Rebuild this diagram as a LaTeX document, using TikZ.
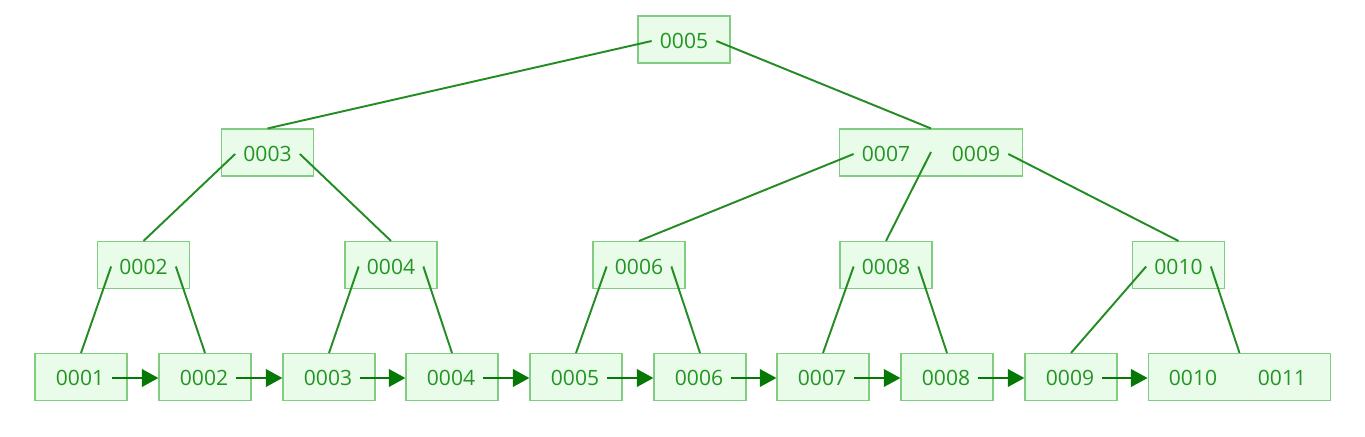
\documentclass[tikz,border=0pt]{standalone}
\usepackage{fontspec}
\setmainfont{Open Sans}
\usetikzlibrary{arrows.meta}
\definecolor{boxfill}{HTML}{E9FBE9}
\definecolor{boxline}{HTML}{80CC80}
\definecolor{txt}{HTML}{249424}
\definecolor{edgec}{HTML}{238C23}
\definecolor{arr}{HTML}{057805}
\begin{document}
\begin{tikzpicture}[x=0.75pt,y=-0.75pt,
 box/.style={draw=boxline,fill=boxfill,line width=0.8pt,minimum width=69pt,minimum height=35.25pt,inner sep=0pt},
 wbox/.style={box,minimum width=137pt},
 key/.style={text=txt,font=\fontsize{15.8pt}{17pt}\selectfont,inner xsep=6pt,inner ysep=2pt},
 tree/.style={draw=edgec,line width=1.45pt},
 link/.style={draw=arr,line width=2.2pt,-{Triangle[length=12.5pt,width=13pt]}}]
\useasboundingbox (0,0) rectangle (1365,436);
% root
\node[box] (b5) at (684,39.5) {};
\node[key] (t5) at (684,41) {0005};
% level 1
\node[box] (b3) at (267.5,152.5) {};
\node[key] (t3) at (267.5,154) {0003};
\node[wbox] (b79) at (931,152.5) {};
\node[key] (t7) at (886,154) {0007};
\node[key] (t9) at (976,154) {0009};
\coordinate (s79) at (931,152);
% level 2
\node[box] (m2) at (143.5,265) {};
\node[key] (mt2) at (143.5,266.5) {0002};
\node[box] (m4) at (391,265) {};
\node[key] (mt4) at (391,266.5) {0004};
\node[box] (m6) at (639,265) {};
\node[key] (mt6) at (639,266.5) {0006};
\node[box] (m8) at (886,265) {};
\node[key] (mt8) at (886,266.5) {0008};
\node[box] (m10) at (1178.5,265) {};
\node[key] (mt10) at (1178.5,266.5) {0010};
% leaves
\node[box] (l1) at (81,377) {};
\node[key] (lt1) at (80,378) {0001};
\node[box] (l2) at (205,377) {};
\node[key] (lt2) at (204,378) {0002};
\node[box] (l3) at (329,377) {};
\node[key] (lt3) at (328,378) {0003};
\node[box] (l4) at (452,377) {};
\node[key] (lt4) at (451,378) {0004};
\node[box] (l5) at (576,377) {};
\node[key] (lt5) at (575,378) {0005};
\node[box] (l6) at (700,377) {};
\node[key] (lt6) at (699,378) {0006};
\node[box] (l7) at (823,377) {};
\node[key] (lt7) at (822,378) {0007};
\node[box] (l8) at (947,377) {};
\node[key] (lt8) at (946,378) {0008};
\node[box] (l9) at (1071,377) {};
\node[key] (lt9) at (1070,378) {0009};
\node[wbox] (l10) at (1239.5,377) {};
\node[key] (lt10) at (1193,378) {0010};
\node[key] (lt11) at (1282,378) {0011};
% tree edges
\draw[tree] (t5.west) -- (b3.north);
\draw[tree] (t5.east) -- (b79.north);
\draw[tree] (t3.west) -- (m2.north);
\draw[tree] (t3.east) -- (m4.north);
\draw[tree] (t7.west) -- (m6.north);
\draw[tree] (s79) -- (m8.north);
\draw[tree] (t9.east) -- (m10.north);
\draw[tree] (mt2.west) -- (l1.north);
\draw[tree] (mt2.east) -- (l2.north);
\draw[tree] (mt4.west) -- (l3.north);
\draw[tree] (mt4.east) -- (l4.north);
\draw[tree] (mt6.west) -- (l5.north);
\draw[tree] (mt6.east) -- (l6.north);
\draw[tree] (mt8.west) -- (l7.north);
\draw[tree] (mt8.east) -- (l8.north);
\draw[tree] (mt10.west) -- (l9.north);
\draw[tree] (mt10.east) -- (l10.north);
% leaf links
\draw[link] (lt1.east) -- (lt1.east -| l2.west);
\draw[link] (lt2.east) -- (lt2.east -| l3.west);
\draw[link] (lt3.east) -- (lt3.east -| l4.west);
\draw[link] (lt4.east) -- (lt4.east -| l5.west);
\draw[link] (lt5.east) -- (lt5.east -| l6.west);
\draw[link] (lt6.east) -- (lt6.east -| l7.west);
\draw[link] (lt7.east) -- (lt7.east -| l8.west);
\draw[link] (lt8.east) -- (lt8.east -| l9.west);
\draw[link] (lt9.east) -- (lt9.east -| l10.west);
\end{tikzpicture}
\end{document}
